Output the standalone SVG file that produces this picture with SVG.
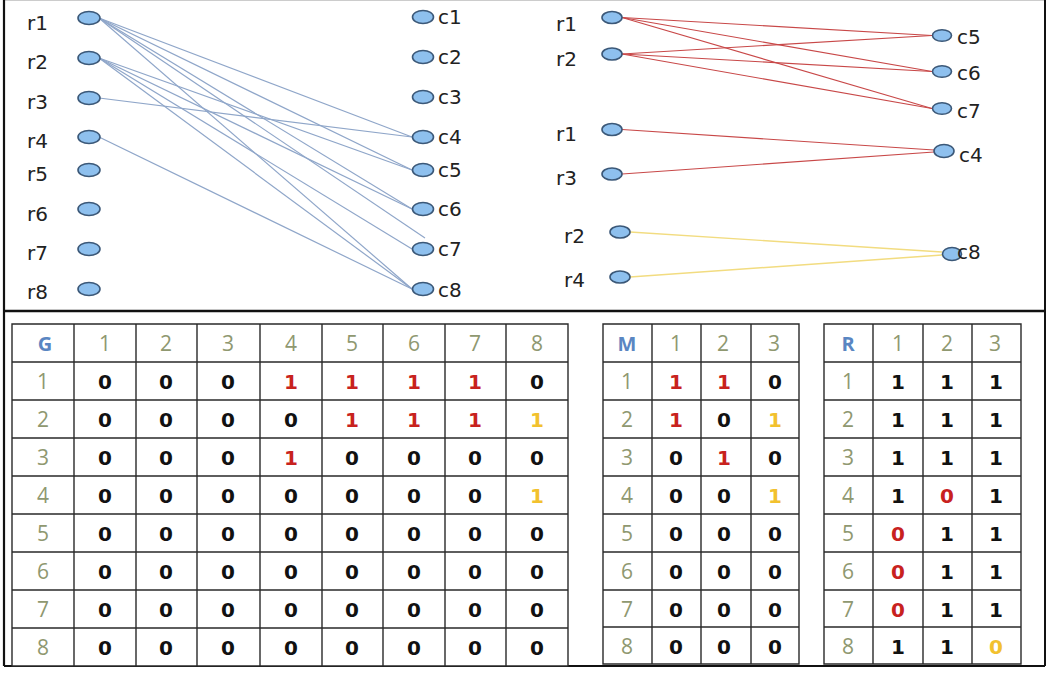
<svg xmlns="http://www.w3.org/2000/svg" width="1048" height="673" viewBox="0 0 1048 673">
<style>
.lbl{font-family:"DejaVu Sans",Verdana,sans-serif;font-size:20px;fill:#222}
.nd{fill:#8EC0EE;stroke:#3B5878;stroke-width:1.6}
.eb{stroke:#8FA6C9;stroke-width:1.2;fill:none}
.er{stroke:#C84848;stroke-width:1.1;fill:none}
.ey{stroke:#F2DC80;stroke-width:1.4;fill:none}
.cell{fill:#fff;stroke:#2a2a2a;stroke-width:1.4}
.hd{font-family:"Open Sans","Noto Sans",sans-serif;font-size:21px;fill:#8F9870;text-anchor:middle}
.hl{font-family:"Open Sans","Noto Sans",sans-serif;font-size:20px;font-weight:bold;fill:#5A86C2;text-anchor:middle}
.v{font-family:"DejaVu Sans",Verdana,sans-serif;font-size:20px;font-weight:bold;fill:#111;text-anchor:middle}
.red{fill:#C8221E}
.yel{fill:#F2C12E}
</style>
<rect x="0" y="0" width="1048" height="673" fill="#fff"/>
<g id="frame" fill="none">
<line x1="4" y1="0.5" x2="1045" y2="0.5" stroke="#ccc" stroke-width="1"/>
<line x1="4" y1="0" x2="4" y2="666" stroke="#111" stroke-width="2.2"/>
<line x1="1045" y1="0" x2="1045" y2="666" stroke="#111" stroke-width="2"/>
<line x1="4" y1="311" x2="1045" y2="311" stroke="#111" stroke-width="2.6"/>
<line x1="4" y1="666" x2="1045" y2="666" stroke="#111" stroke-width="2.2"/>
</g>
<g id="connectors">
<line class="eb" x1="99" y1="18" x2="412" y2="137"/>
<line class="eb" x1="99" y1="18" x2="412" y2="170"/>
<line class="eb" x1="99" y1="18" x2="412" y2="209"/>
<line class="eb" x1="99" y1="18" x2="425" y2="238"/>
<line class="eb" x1="99" y1="18" x2="412" y2="289"/>
<line class="eb" x1="99" y1="58" x2="412" y2="170"/>
<line class="eb" x1="99" y1="58" x2="412" y2="209"/>
<line class="eb" x1="99" y1="58" x2="412" y2="249"/>
<line class="eb" x1="99" y1="58" x2="412" y2="289"/>
<line class="eb" x1="99" y1="98" x2="412" y2="137"/>
<line class="eb" x1="99" y1="137" x2="412" y2="289"/>
<line class="er" x1="622" y1="17.5" x2="932" y2="35.5"/>
<line class="er" x1="622" y1="17.5" x2="932" y2="71.5"/>
<line class="er" x1="622" y1="17.5" x2="932" y2="108.5"/>
<line class="er" x1="622" y1="54" x2="932" y2="35.5"/>
<line class="er" x1="622" y1="54" x2="932" y2="71.5"/>
<line class="er" x1="622" y1="54" x2="932" y2="108.5"/>
<line class="er" x1="622" y1="129.5" x2="934" y2="150"/>
<line class="er" x1="622" y1="174" x2="934" y2="152"/>
<line class="ey" x1="630" y1="232" x2="942" y2="252"/>
<line class="ey" x1="630" y1="277" x2="942" y2="255"/>
</g>
<g id="L-r1"><ellipse class="nd" cx="89" cy="18" rx="11" ry="6.5"/><text class="lbl" x="27" y="30">r1</text></g>
<g id="L-r2"><ellipse class="nd" cx="89" cy="58" rx="11" ry="6.5"/><text class="lbl" x="27" y="69">r2</text></g>
<g id="L-r3"><ellipse class="nd" cx="89" cy="98" rx="11" ry="6.5"/><text class="lbl" x="27" y="109">r3</text></g>
<g id="L-r4"><ellipse class="nd" cx="89" cy="137" rx="11" ry="6.5"/><text class="lbl" x="27" y="148">r4</text></g>
<g id="L-r5"><ellipse class="nd" cx="89" cy="170" rx="11" ry="6.5"/><text class="lbl" x="27" y="181">r5</text></g>
<g id="L-r6"><ellipse class="nd" cx="89" cy="209" rx="11" ry="6.5"/><text class="lbl" x="27" y="221">r6</text></g>
<g id="L-r7"><ellipse class="nd" cx="89" cy="249" rx="11" ry="6.5"/><text class="lbl" x="27" y="260">r7</text></g>
<g id="L-r8"><ellipse class="nd" cx="89" cy="289" rx="11" ry="6.5"/><text class="lbl" x="27" y="299">r8</text></g>
<g id="L-c1"><ellipse class="nd" cx="423" cy="17" rx="10.5" ry="6.5"/><text class="lbl" x="438" y="24">c1</text></g>
<g id="L-c2"><ellipse class="nd" cx="423" cy="57" rx="10.5" ry="6.5"/><text class="lbl" x="438" y="64">c2</text></g>
<g id="L-c3"><ellipse class="nd" cx="423" cy="97" rx="10.5" ry="6.5"/><text class="lbl" x="438" y="104">c3</text></g>
<g id="L-c4"><ellipse class="nd" cx="423" cy="137" rx="10.5" ry="6.5"/><text class="lbl" x="438" y="144">c4</text></g>
<g id="L-c5"><ellipse class="nd" cx="423" cy="170" rx="10.5" ry="6.5"/><text class="lbl" x="438" y="177">c5</text></g>
<g id="L-c6"><ellipse class="nd" cx="423" cy="209" rx="10.5" ry="6.5"/><text class="lbl" x="438" y="216">c6</text></g>
<g id="L-c7"><ellipse class="nd" cx="423" cy="249" rx="10.5" ry="6.5"/><text class="lbl" x="438" y="256">c7</text></g>
<g id="L-c8"><ellipse class="nd" cx="423" cy="289" rx="10.5" ry="6.5"/><text class="lbl" x="438" y="297">c8</text></g>
<g id="R-r1a"><ellipse class="nd" cx="612" cy="17.5" rx="10" ry="6"/><text class="lbl" x="556" y="31">r1</text></g>
<g id="R-r2a"><ellipse class="nd" cx="612" cy="54" rx="10" ry="6"/><text class="lbl" x="556" y="66">r2</text></g>
<g id="R-r1b"><ellipse class="nd" cx="612" cy="129.5" rx="10" ry="6"/><text class="lbl" x="556" y="141">r1</text></g>
<g id="R-r3"><ellipse class="nd" cx="612" cy="174" rx="10" ry="6"/><text class="lbl" x="556" y="185">r3</text></g>
<g id="R-r2b"><ellipse class="nd" cx="620" cy="232" rx="10" ry="6"/><text class="lbl" x="564" y="243">r2</text></g>
<g id="R-r4"><ellipse class="nd" cx="620" cy="277" rx="10" ry="6"/><text class="lbl" x="564" y="287">r4</text></g>
<g id="R-c5"><ellipse class="nd" cx="942" cy="35.5" rx="9.5" ry="5.8"/><text class="lbl" x="957" y="44">c5</text></g>
<g id="R-c6"><ellipse class="nd" cx="942" cy="71.5" rx="9.5" ry="5.8"/><text class="lbl" x="957" y="80">c6</text></g>
<g id="R-c7"><ellipse class="nd" cx="942" cy="108.5" rx="9.5" ry="5.8"/><text class="lbl" x="957" y="118">c7</text></g>
<g id="R-c4"><ellipse class="nd" cx="944" cy="151" rx="10" ry="6.5"/><text class="lbl" x="959" y="162">c4</text></g>
<g id="R-c8"><ellipse class="nd" cx="952" cy="254" rx="9.5" ry="6.5"/><text class="lbl" x="957" y="259">c8</text></g>
<g id="tableG">
<path class="cell" d="M12,324H568V666H12Z"/>
<path fill="none" stroke="#2a2a2a" stroke-width="1.4" d="M74,324V666M136,324V666M197,324V666M260,324V666M322,324V666M383,324V666M445,324V666M506,324V666M12,362H568M12,400H568M12,438H568M12,476H568M12,514H568M12,552H568M12,590H568M12,628H568"/>
<text class="hl" x="45" y="351">G</text>
<text class="hd" x="105" y="351">1</text><text class="hd" x="166" y="351">2</text><text class="hd" x="228" y="351">3</text><text class="hd" x="291" y="351">4</text><text class="hd" x="352" y="351">5</text><text class="hd" x="414" y="351">6</text><text class="hd" x="475" y="351">7</text><text class="hd" x="537" y="351">8</text>
<text class="hd" x="43" y="389">1</text><text class="hd" x="43" y="427">2</text><text class="hd" x="43" y="465">3</text><text class="hd" x="43" y="503">4</text><text class="hd" x="43" y="541">5</text><text class="hd" x="43" y="579">6</text><text class="hd" x="43" y="617">7</text><text class="hd" x="43" y="655">8</text>
<text class="v" y="389"><tspan x="105">0</tspan><tspan x="166">0</tspan><tspan x="228">0</tspan><tspan x="291" class="red">1</tspan><tspan x="352" class="red">1</tspan><tspan x="414" class="red">1</tspan><tspan x="475" class="red">1</tspan><tspan x="537">0</tspan></text>
<text class="v" y="427"><tspan x="105">0</tspan><tspan x="166">0</tspan><tspan x="228">0</tspan><tspan x="291">0</tspan><tspan x="352" class="red">1</tspan><tspan x="414" class="red">1</tspan><tspan x="475" class="red">1</tspan><tspan x="537" class="yel">1</tspan></text>
<text class="v" y="465"><tspan x="105">0</tspan><tspan x="166">0</tspan><tspan x="228">0</tspan><tspan x="291" class="red">1</tspan><tspan x="352">0</tspan><tspan x="414">0</tspan><tspan x="475">0</tspan><tspan x="537">0</tspan></text>
<text class="v" y="503"><tspan x="105">0</tspan><tspan x="166">0</tspan><tspan x="228">0</tspan><tspan x="291">0</tspan><tspan x="352">0</tspan><tspan x="414">0</tspan><tspan x="475">0</tspan><tspan x="537" class="yel">1</tspan></text>
<text class="v" y="541"><tspan x="105">0</tspan><tspan x="166">0</tspan><tspan x="228">0</tspan><tspan x="291">0</tspan><tspan x="352">0</tspan><tspan x="414">0</tspan><tspan x="475">0</tspan><tspan x="537">0</tspan></text>
<text class="v" y="579"><tspan x="105">0</tspan><tspan x="166">0</tspan><tspan x="228">0</tspan><tspan x="291">0</tspan><tspan x="352">0</tspan><tspan x="414">0</tspan><tspan x="475">0</tspan><tspan x="537">0</tspan></text>
<text class="v" y="617"><tspan x="105">0</tspan><tspan x="166">0</tspan><tspan x="228">0</tspan><tspan x="291">0</tspan><tspan x="352">0</tspan><tspan x="414">0</tspan><tspan x="475">0</tspan><tspan x="537">0</tspan></text>
<text class="v" y="655"><tspan x="105">0</tspan><tspan x="166">0</tspan><tspan x="228">0</tspan><tspan x="291">0</tspan><tspan x="352">0</tspan><tspan x="414">0</tspan><tspan x="475">0</tspan><tspan x="537">0</tspan></text>
</g>
<g id="tableM">
<path class="cell" d="M603,324H799V664H603Z"/>
<path fill="none" stroke="#2a2a2a" stroke-width="1.4" d="M652,324V664M701,324V664M751,324V664M603,362H799M603,400H799M603,438H799M603,476H799M603,514H799M603,552H799M603,590H799M603,627H799"/>
<text class="hl" x="627" y="351">M</text>
<text class="hd" x="676" y="351">1</text><text class="hd" x="723" y="351">2</text><text class="hd" x="774" y="351">3</text>
<text class="hd" x="627" y="389">1</text><text class="hd" x="627" y="427">2</text><text class="hd" x="627" y="465">3</text><text class="hd" x="627" y="503">4</text><text class="hd" x="627" y="541">5</text><text class="hd" x="627" y="579">6</text><text class="hd" x="627" y="617">7</text><text class="hd" x="627" y="654">8</text>
<text class="v" y="389"><tspan x="676" class="red">1</tspan><tspan x="724" class="red">1</tspan><tspan x="775">0</tspan></text>
<text class="v" y="427"><tspan x="676" class="red">1</tspan><tspan x="724">0</tspan><tspan x="775" class="yel">1</tspan></text>
<text class="v" y="465"><tspan x="676">0</tspan><tspan x="724" class="red">1</tspan><tspan x="775">0</tspan></text>
<text class="v" y="503"><tspan x="676">0</tspan><tspan x="724">0</tspan><tspan x="775" class="yel">1</tspan></text>
<text class="v" y="541"><tspan x="676">0</tspan><tspan x="724">0</tspan><tspan x="775">0</tspan></text>
<text class="v" y="579"><tspan x="676">0</tspan><tspan x="724">0</tspan><tspan x="775">0</tspan></text>
<text class="v" y="617"><tspan x="676">0</tspan><tspan x="724">0</tspan><tspan x="775">0</tspan></text>
<text class="v" y="654"><tspan x="676">0</tspan><tspan x="724">0</tspan><tspan x="775">0</tspan></text>
</g>
<g id="tableR">
<path class="cell" d="M824,324H1021V664H824Z"/>
<path fill="none" stroke="#2a2a2a" stroke-width="1.4" d="M873,324V664M923,324V664M972,324V664M824,362H1021M824,400H1021M824,438H1021M824,476H1021M824,514H1021M824,552H1021M824,590H1021M824,627H1021"/>
<text class="hl" x="848" y="351">R</text>
<text class="hd" x="898" y="351">1</text><text class="hd" x="947" y="351">2</text><text class="hd" x="995" y="351">3</text>
<text class="hd" x="848" y="389">1</text><text class="hd" x="848" y="427">2</text><text class="hd" x="848" y="465">3</text><text class="hd" x="848" y="503">4</text><text class="hd" x="848" y="541">5</text><text class="hd" x="848" y="579">6</text><text class="hd" x="848" y="617">7</text><text class="hd" x="848" y="654">8</text>
<text class="v" y="389"><tspan x="898">1</tspan><tspan x="947">1</tspan><tspan x="996">1</tspan></text>
<text class="v" y="427"><tspan x="898">1</tspan><tspan x="947">1</tspan><tspan x="996">1</tspan></text>
<text class="v" y="465"><tspan x="898">1</tspan><tspan x="947">1</tspan><tspan x="996">1</tspan></text>
<text class="v" y="503"><tspan x="898">1</tspan><tspan x="947" class="red">0</tspan><tspan x="996">1</tspan></text>
<text class="v" y="541"><tspan x="898" class="red">0</tspan><tspan x="947">1</tspan><tspan x="996">1</tspan></text>
<text class="v" y="579"><tspan x="898" class="red">0</tspan><tspan x="947">1</tspan><tspan x="996">1</tspan></text>
<text class="v" y="617"><tspan x="898" class="red">0</tspan><tspan x="947">1</tspan><tspan x="996">1</tspan></text>
<text class="v" y="654"><tspan x="898">1</tspan><tspan x="947">1</tspan><tspan x="996" class="yel">0</tspan></text>
</g>
</svg>
